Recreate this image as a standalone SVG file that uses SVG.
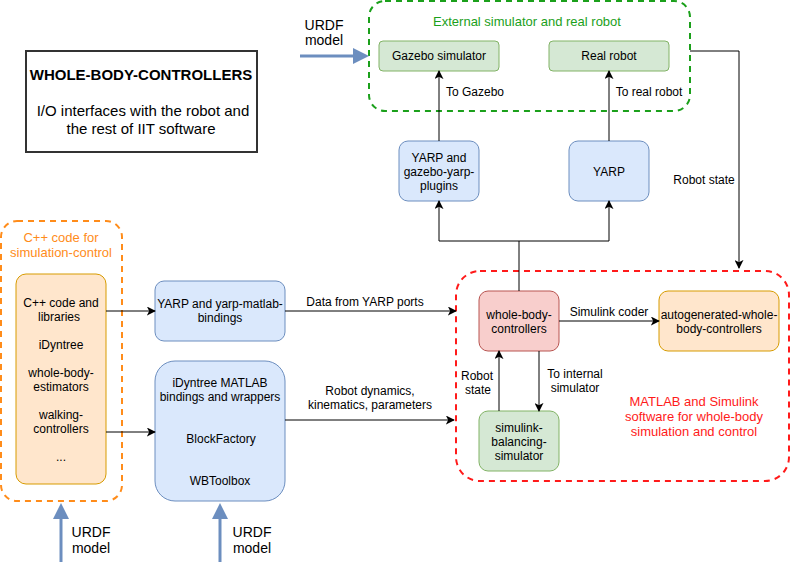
<svg xmlns="http://www.w3.org/2000/svg" width="790" height="572" viewBox="0 0 790 572">
<defs>
<style>
text{font-family:"Liberation Sans",Arial,sans-serif;font-size:12px;fill:#000;text-anchor:middle}
.lbl{font-size:12px}
.big{font-size:14px}
.blue{fill:#dae8fc;stroke:#6c8ebf}
.green{fill:#d5e8d4;stroke:#82b366}
.orange{fill:#ffe6cc;stroke:#d79b00}
.red{fill:#f8cecc;stroke:#b85450}
.edge{fill:none;stroke:#000;stroke-width:1;marker-end:url(#ah)}
.fat{fill:none;stroke:#6c8ebf;stroke-width:3}
</style>
<marker id="ah" viewBox="0 0 10 10" refX="9" refY="5" markerWidth="9" markerHeight="9" markerUnits="userSpaceOnUse" orient="auto">
<path d="M0,0 L10,5 L0,10 L2.5,5 Z" fill="#000"/>
</marker>
</defs>
<rect width="790" height="572" fill="#fff"/>

<g id="title">
<rect x="26" y="51" width="231" height="101" fill="#fff" stroke="#333" stroke-width="2"/>
<text x="141" y="80" style="font-size:15px;font-weight:bold">WHOLE-BODY-CONTROLLERS</text>
<text x="143" y="116" style="font-size:15px">I/O interfaces with the robot and</text>
<text x="141" y="134" style="font-size:15px">the rest of IIT software</text>
</g>

<g id="external-container">
<rect x="369" y="1" width="321" height="110" rx="16" fill="none" stroke="#1ba01b" stroke-width="2" stroke-dasharray="6 5"/>
<text x="527" y="26" style="font-size:13px;fill:#1ba01b">External simulator and real robot</text>
</g>
<g id="gazebo-sim">
<rect class="green" x="379" y="41" width="120" height="30" rx="4"/>
<text x="439" y="60">Gazebo simulator</text>
</g>
<g id="real-robot">
<rect class="green" x="549" y="41" width="120" height="30" rx="4"/>
<text x="609" y="60">Real robot</text>
</g>
<g id="yarp-gazebo">
<rect class="blue" x="399" y="141" width="80" height="60" rx="9"/>
<text x="439" y="162">YARP and</text>
<text x="439" y="176">gazebo-yarp-</text>
<text x="439" y="190">plugins</text>
</g>
<g id="yarp">
<rect class="blue" x="569" y="141" width="80" height="60" rx="9"/>
<text x="609" y="176">YARP</text>
</g>

<g id="cpp-container">
<rect x="1" y="221" width="121" height="280" rx="16" fill="none" stroke="#ff8c1a" stroke-width="2" stroke-dasharray="6 5"/>
<text x="61" y="242" style="font-size:13px;fill:#ff8c1a">C++ code for</text>
<text x="61" y="257" style="font-size:13px;fill:#ff8c1a">simulation-control</text>
</g>
<g id="cpp-libs">
<rect class="orange" x="16" y="274" width="90" height="210" rx="10"/>
<text x="61" y="307">C++ code and</text>
<text x="59" y="321">libraries</text>
<text x="61" y="349">iDyntree</text>
<text x="61" y="377">whole-body-</text>
<text x="61" y="391">estimators</text>
<text x="61" y="419">walking-</text>
<text x="61" y="433">controllers</text>
<text x="61" y="461">...</text>
</g>

<g id="yarp-matlab">
<rect class="blue" x="155" y="281" width="130" height="60" rx="9"/>
<text x="220" y="308">YARP and yarp-matlab-</text>
<text x="220" y="322">bindings</text>
</g>
<g id="idyntree-matlab">
<rect class="blue" x="155" y="361" width="130" height="140" rx="20"/>
<text x="220" y="387">iDyntree MATLAB</text>
<text x="220" y="401">bindings and wrappers</text>
<text x="221" y="443">BlockFactory</text>
<text x="220" y="485">WBToolbox</text>
</g>

<g id="matlab-container">
<rect x="456" y="271" width="333" height="210" rx="24" fill="none" stroke="#ff1a1a" stroke-width="2" stroke-dasharray="6 5"/>
<text x="694" y="406" style="font-size:13px;fill:#ff1a1a">MATLAB and Simulink</text>
<text x="694" y="421" style="font-size:13px;fill:#ff1a1a">software for whole-body</text>
<text x="694" y="436" style="font-size:13px;fill:#ff1a1a">simulation and control</text>
</g>
<g id="wbc">
<rect class="red" x="479" y="291" width="80" height="60" rx="9"/>
<text x="519" y="319">whole-body-</text>
<text x="519" y="333">controllers</text>
</g>
<g id="autogen">
<rect class="orange" x="659" y="291" width="120" height="60" rx="9"/>
<text x="719" y="319">autogenerated-whole-</text>
<text x="719" y="333">body-controllers</text>
</g>
<g id="sim-balancing">
<rect class="green" x="479" y="411" width="80" height="60" rx="9"/>
<text x="519" y="432">simulink-</text>
<text x="519" y="446">balancing-</text>
<text x="519" y="460">simulator</text>
</g>

<g id="connectors">
<path class="edge" d="M439,141 V71"/>
<path class="edge" d="M609,141 V71"/>
<path class="edge" d="M519,291 V241 H439 V201"/>
<path class="edge" d="M519,241 H609 V201"/>
<path class="edge" d="M690,51 H739 V268"/>
<path class="edge" d="M106,311 H155"/>
<path class="edge" d="M106,432 H155"/>
<path class="edge" d="M285,311 H456"/>
<path class="edge" d="M285,420 H454"/>
<path class="edge" d="M559,321 H659"/>
<path class="edge" d="M539,351 V411"/>
<path class="edge" d="M499,411 V351"/>
<path class="fat" d="M300,56 H356"/>
<path d="M353,48 L369,56 L353,64 Z" fill="#6c8ebf"/>
<path class="fat" d="M61,562 V516"/>
<path d="M53,519 L61,503 L69,519 Z" fill="#6c8ebf"/>
<path class="fat" d="M220,562 V516"/>
<path d="M212,519 L220,503 L228,519 Z" fill="#6c8ebf"/>
<text class="lbl" x="475" y="96">To Gazebo</text>
<text class="lbl" x="649" y="96">To real robot</text>
<text class="lbl" x="704" y="184">Robot state</text>
<text class="lbl" x="365" y="306">Data from YARP ports</text>
<text class="lbl" x="370" y="395">Robot dynamics,</text>
<text class="lbl" x="370" y="409">kinematics, parameters</text>
<text class="lbl" x="609" y="316">Simulink coder</text>
<text class="lbl" x="575" y="378">To internal</text>
<text class="lbl" x="575" y="392">simulator</text>
<text class="lbl" x="477" y="380">Robot</text>
<text class="lbl" x="478" y="394">state</text>
<text class="big" x="324" y="30">URDF</text>
<text class="big" x="324" y="45">model</text>
<text class="big" x="91" y="537">URDF</text>
<text class="big" x="91" y="553">model</text>
<text class="big" x="252" y="537">URDF</text>
<text class="big" x="252" y="553">model</text>
</g>
</svg>
